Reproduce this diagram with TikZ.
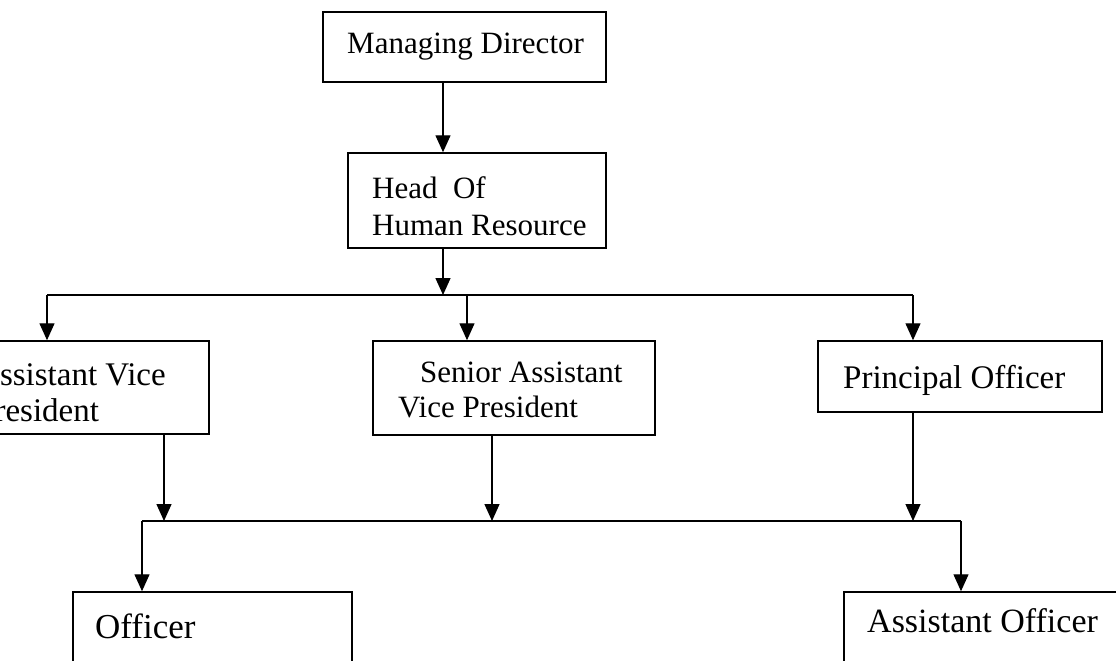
\documentclass[tikz,border=0pt]{standalone}
\usepackage{fontspec}
\setmainfont{Liberation Serif}
\usetikzlibrary{arrows.meta}
\begin{document}
\begin{tikzpicture}[x=1pt,y=-1pt,
  box/.style={draw, rectangle, line width=1.5pt, inner sep=0pt},
  lbl/.style={anchor=base west, inner sep=0pt, font=\fontsize{#1}{#1}\selectfont},
  link/.style={line width=1.4pt},
  arr/.style={link, -{Triangle[length=17pt,width=15pt]}}]
\useasboundingbox (0,0) rectangle (1116,661);
\clip (0,0) rectangle (1116,661);

% boxes of the chart
\node[box, minimum width=283pt, minimum height=70pt] (md)   at (464.5,47) {};
\node[box, minimum width=258pt, minimum height=95pt] (hr)   at (477,200.5) {};
\node[box, minimum width=257pt, minimum height=93pt] (avp)  at (80.5,387.5) {};
\node[box, minimum width=282pt, minimum height=94pt] (savp) at (514,388) {};
\node[box, minimum width=284pt, minimum height=71pt] (po)   at (960,376.5) {};
\node[box, minimum width=279pt, minimum height=108pt] (off) at (212.5,646) {};
\node[box, minimum width=296pt, minimum height=108pt] (ao)  at (992,646) {};

% titles
\node[lbl=31] (md-t)    at (347,53)  {Managing Director};
\node[lbl=31] (hr-t1)   at (372,198) {Head~~Of};
\node[lbl=31] (hr-t2)   at (372,235) {Human Resource};
\node[lbl=33] (avp-t1)  at (-24,385) {Assistant Vice};
\node[lbl=33] (avp-t2)  at (-24,421) {President};
\node[lbl=31] (savp-t1) at (420,382) {Senior Assistant};
\node[lbl=31] (savp-t2) at (398,417) {Vice President};
\node[lbl=33] (po-t)    at (843,388) {Principal Officer};
\node[lbl=35] (off-t)   at (95,638)  {Officer};
\node[lbl=34] (ao-t)    at (867,632) {Assistant Officer};

% upper junction and branches
\coordinate (j1) at (443,295);
\coordinate (b1) at (47,295);
\coordinate (b2) at (467,295);
\coordinate (b3) at (913,295);
\draw[arr] (md.south -| j1) -- (hr.north -| j1);
\draw[arr] (hr.south -| j1) -- (j1);
\draw[link] (b1) -- (b3);
\draw[arr] (b1) -- (avp.north -| b1);
\draw[arr] (b2) -- (savp.north -| b2);
\draw[arr] (b3) -- (po.north -| b3);

% lower junction and branches
\coordinate (a1) at (164,521);
\coordinate (a2) at (492,521);
\coordinate (a3) at (913,521);
\coordinate (c1) at (142,521);
\coordinate (c2) at (961,521);
\draw[arr] (avp.south -| a1) -- (a1);
\draw[arr] (savp.south -| a2) -- (a2);
\draw[arr] (po.south -| a3) -- (a3);
\draw[link] (c1) -- (c2);
\draw[arr] (c1) -- (off.north -| c1);
\draw[arr] (c2) -- (ao.north -| c2);
\end{tikzpicture}
\end{document}
